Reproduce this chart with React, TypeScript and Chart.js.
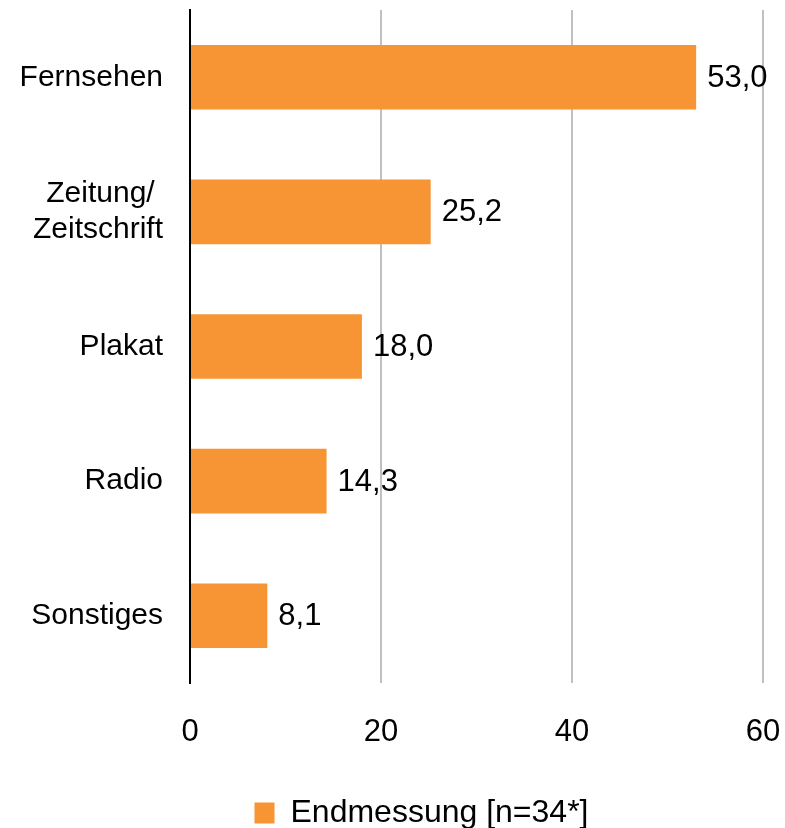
import React, { useEffect, useRef } from "react";
import { Chart, registerables } from "chart.js";

Chart.register(...registerables);

const categories: (string | string[])[] = [
  "Fernsehen",
  ["Zeitung/ ", "Zeitschrift"],
  "Plakat",
  "Radio",
  "Sonstiges",
];
const values: number[] = [53.0, 25.2, 18.0, 14.3, 8.1];
const seriesLabel = "Endmessung [n=34*]";
const xTicks: number[] = [0, 20, 40, 60];

const FONT = "'Liberation Sans', Arial, sans-serif";
const ORANGE = "#F79433";

const valueLabels = {
  id: "valueLabels",
  afterDatasetsDraw(chart: any) {
    const { ctx } = chart;
    const meta = chart.getDatasetMeta(0);
    ctx.save();
    ctx.font = `31px ${FONT}`;
    ctx.fillStyle = "#000";
    ctx.textAlign = "left";
    ctx.textBaseline = "middle";
    meta.data.forEach((bar: any, i: number) => {
      const txt = values[i].toFixed(1).replace(".", ",");
      ctx.fillText(txt, bar.x + 11, bar.y + 1);
    });
    ctx.restore();
  },
};

const legendShift = {
  id: "legendShift",
  afterLayout(chart: any) {
    const l = chart.legend;
    if (l) {
      l.left += 40;
      l.right += 40;
      l.top += 11;
      l.bottom += 11;
    }
  },
};

export default function App() {
  const ref = useRef<HTMLCanvasElement | null>(null);
  useEffect(() => {
    if (!ref.current) return;
    const chart = new Chart(ref.current, {
      type: "bar",
      data: {
        labels: categories,
        datasets: [
          {
            label: seriesLabel,
            data: values,
            backgroundColor: ORANGE,
            borderWidth: 0,
            categoryPercentage: 1,
            barPercentage: 0.48,
          },
        ],
      },
      options: {
        indexAxis: "y",
        responsive: false,
        animation: false,
        layout: { padding: { top: 10, right: 22, left: 0, bottom: 0 } },
        plugins: {
          tooltip: { enabled: false },
          legend: {
            position: "bottom",
            labels: {
              font: { family: FONT, size: 32 },
              color: "#000",
              boxWidth: 20,
              boxHeight: 21,
              padding: 6,
            },
          },
        },
        scales: {
          x: {
            min: 0,
            max: 60,
            afterBuildTicks: (s: any) => {
              s.ticks = xTicks.map((v) => ({ value: v }));
            },
            afterFit: (s: any) => {
              s.height = 97;
              s.paddingLeft = 0;
              s.paddingRight = 0;
            },
            border: { display: false },
            grid: {
              drawTicks: false,
              color: (c: any) => (c.tick && c.tick.value === 0 ? "rgba(0,0,0,0)" : "#c0c0c0"),
              lineWidth: 2,
            },
            ticks: {
              padding: 31,
              color: "#000",
              font: { family: FONT, size: 31 },
            },
          },
          y: {
            afterFit: (s: any) => {
              s.width = 190;
              s.paddingTop = 0;
              s.paddingBottom = 0;
            },
            border: { display: true, color: "#000", width: 2 },
            grid: { display: false, drawTicks: false },
            ticks: {
              padding: 27,
              color: "#000",
              font: { family: FONT, size: 30 },
            },
          },
        },
      },
      plugins: [valueLabels, legendShift],
    });
    return () => chart.destroy();
  }, []);
  return (
    <canvas
      ref={ref}
      width={785}
      height={828}
      style={{ position: "absolute", left: 0, top: 0, display: "block" }}
    />
  );
}
